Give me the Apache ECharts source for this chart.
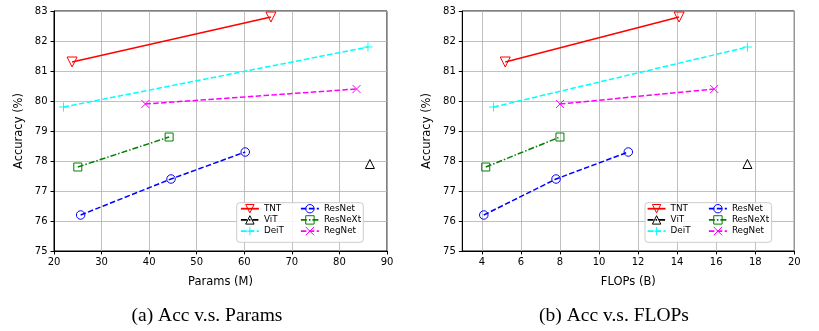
<!DOCTYPE html>
<html>
<head>
<meta charset="utf-8">
<script src="https://cdn.jsdelivr.net/npm/echarts@6/dist/echarts.min.js"></script>
<style>
  html, body { margin: 0; padding: 0; background: #fff; }
  #chart { width: 819px; height: 331px; }
</style>
</head>
<body>
<div id="chart"></div>
<script>
// Top-1 accuracy against model size (params) and compute (FLOPs)
const tntParams = [23.8, 65.6];
const tntFlops = [5.2, 14.1];
const tntAcc = [81.3, 82.8];

const vitParams = [86.4];
const vitFlops = [17.6];
const vitAcc = [77.9];

const deitParams = [22.0, 86.0];
const deitFlops = [4.6, 17.6];
const deitAcc = [79.8, 81.8];

const resnetParams = [25.6, 44.6, 60.2];
const resnetFlops = [4.1, 7.8, 11.5];
const resnetAcc = [76.2, 77.4, 78.3];

const resnextParams = [25.0, 44.2];
const resnextFlops = [4.2, 8.0];
const resnextAcc = [77.8, 78.8];

const regnetParams = [39.2, 83.6];
const regnetFlops = [8.0, 15.9];
const regnetAcc = [79.9, 80.4];

const flopsTicks = [4, 6, 8, 10, 12, 14, 16, 18, 20];
const legendColA = ['TNT', 'ViT', 'DeiT'];
const legendColB = ['ResNet', 'ResNeXt', 'RegNet'];
const captions = ['(a) Acc v.s. Params', '(b) Acc v.s. FLOPs'];

const FONT = 'DejaVu Sans';
const DASHED = [5.5, 2.4];
const DASHDOT = [6, 2, 1.5, 2];
const PLUS = 'path://M0,5L10,5M5,0L5,10';
const CROSS = 'path://M0,0L10,10M0,10L10,0';

const styles = {
  TNT: { color: '#ff0000', symbol: 'triangle', rotate: 180, size: 10, type: 'solid' },
  ViT: { color: '#000000', symbol: 'triangle', rotate: 0, size: 9, type: DASHDOT },
  DeiT: { color: '#00ffff', symbol: PLUS, rotate: 0, size: 9, type: DASHED },
  ResNet: { color: '#0000ff', symbol: 'circle', rotate: 0, size: 8.5, type: DASHED },
  ResNeXt: { color: '#008000', symbol: 'rect', rotate: 0, size: 8, type: DASHDOT },
  RegNet: { color: '#ff00ff', symbol: CROSS, rotate: 0, size: 8, type: DASHED }
};

function pairs(xs, ys) { return xs.map((x, i) => [x, ys[i]]); }

function makeSeries(name, xs, ys, idx) {
  const s = styles[name];
  return {
    name: name,
    type: 'line',
    xAxisIndex: idx,
    yAxisIndex: idx,
    data: pairs(xs, ys),
    symbol: s.symbol,
    symbolSize: s.size,
    symbolRotate: s.rotate,
    showSymbol: true,
    lineStyle: { color: s.color, width: 1.5, type: s.type },
    // hollow markers: no fill, thin outline in the series colour
    itemStyle: { color: 'rgba(0,0,0,0)', borderColor: s.color, borderWidth: 1 },
    emphasis: { disabled: true },
    z: 2
  };
}

const series = [
  makeSeries('TNT', tntParams, tntAcc, 0),
  makeSeries('ViT', vitParams, vitAcc, 0),
  makeSeries('DeiT', deitParams, deitAcc, 0),
  makeSeries('ResNet', resnetParams, resnetAcc, 0),
  makeSeries('ResNeXt', resnextParams, resnextAcc, 0),
  makeSeries('RegNet', regnetParams, regnetAcc, 0),
  makeSeries('TNT', tntFlops, tntAcc, 1),
  makeSeries('ViT', vitFlops, vitAcc, 1),
  makeSeries('DeiT', deitFlops, deitAcc, 1),
  makeSeries('ResNet', resnetFlops, resnetAcc, 1),
  makeSeries('ResNeXt', resnextFlops, resnextAcc, 1),
  makeSeries('RegNet', regnetFlops, regnetAcc, 1)
];

const tickLabel = { fontFamily: FONT, fontSize: 10, color: '#000' };
const axisName = { fontFamily: FONT, fontSize: 11.5, color: '#000' };
const gridLine = { show: true, lineStyle: { color: '#b0b0b0', width: 0.8 } };

function yAxis(idx) {
  return {
    type: 'value', gridIndex: idx, min: 75, max: 83, interval: 1,
    name: 'Accuracy (%)', nameLocation: 'middle', nameGap: 29, nameRotate: 90,
    nameTextStyle: axisName,
    axisLine: { show: true, lineStyle: { color: '#000', width: 1 } },
    axisTick: { show: true, inside: false, length: 3.5, lineStyle: { color: '#000' } },
    axisLabel: Object.assign({ margin: 6.5 }, tickLabel),
    splitLine: gridLine
  };
}

function legend(names, left) {
  return {
    data: names, orient: 'vertical', left: left, top: 204,
    padding: 0, itemWidth: 18, itemHeight: 10.5, itemGap: 1.8,
    selectedMode: false,
    itemStyle: { borderWidth: 1 },
    lineStyle: { width: 1.8 },
    textStyle: { fontFamily: FONT, fontSize: 8.8, color: '#000' }
  };
}

function legendBox(x) {
  return {
    type: 'rect', z: 3,
    shape: { x: x, y: 202.7, width: 126.6, height: 39.6, r: 3 },
    style: { fill: 'rgba(255,255,255,0.85)', stroke: '#cccccc', lineWidth: 1 }
  };
}

const option = {
  animation: false,
  backgroundColor: '#fff',
  grid: [
    { left: 54, right: 432, top: 11, bottom: 80, show: true, borderColor: '#000', borderWidth: 1, backgroundColor: 'transparent' },
    { left: 462.3, right: 24.7, top: 11, bottom: 80, show: true, borderColor: '#000', borderWidth: 1, backgroundColor: 'transparent' }
  ],
  xAxis: [
    {
      type: 'value', gridIndex: 0, min: 20, max: 90, interval: 10,
      name: 'Params (M)', nameLocation: 'middle', nameGap: 25, nameTextStyle: axisName,
      axisLine: { show: true, lineStyle: { color: '#000', width: 1 } },
      axisTick: { show: true, inside: false, length: 3.5, lineStyle: { color: '#000' } },
      axisLabel: Object.assign({ margin: 6.5 }, tickLabel),
      splitLine: gridLine
    },
    {
      type: 'value', gridIndex: 1, min: 3, max: 20,
      name: 'FLOPs (B)', nameLocation: 'middle', nameGap: 25, nameTextStyle: axisName,
      axisLine: { show: true, lineStyle: { color: '#000', width: 1 } },
      axisTick: { show: true, inside: false, length: 3.5, lineStyle: { color: '#000' }, customValues: flopsTicks },
      axisLabel: Object.assign({ margin: 6.5, customValues: flopsTicks }, tickLabel),
      splitLine: gridLine
    }
  ],
  yAxis: [yAxis(0), yAxis(1)],
  legend: [
    legend(legendColA, 240),
    legend(legendColB, 300),
    legend(legendColA, 646.7),
    legend(legendColB, 708)
  ],
  graphic: [
    legendBox(236.7),
    legendBox(645),
    {
      type: 'text', x: 207, y: 316, z: 5,
      style: { text: captions[0], font: '19.5px "Liberation Serif"', fill: '#000', align: 'center', verticalAlign: 'middle' }
    },
    {
      type: 'text', x: 614, y: 316, z: 5,
      style: { text: captions[1], font: '19.5px "Liberation Serif"', fill: '#000', align: 'center', verticalAlign: 'middle' }
    }
  ],
  series: series
};

const chart = echarts.init(document.getElementById('chart'), null, { renderer: 'canvas' });
chart.setOption(option);
</script>
</body>
</html>
